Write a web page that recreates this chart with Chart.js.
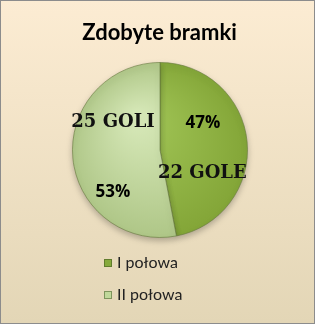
<!DOCTYPE html>
<html><head><meta charset="utf-8">
<script src="https://cdn.jsdelivr.net/npm/chart.js@4/dist/chart.umd.min.js"></script>
<style>
html,body{margin:0;padding:0;}
#wrap{position:relative;width:313px;height:322px;border:1px solid #8c8c8c;background:linear-gradient(#fcecd3,#e3d6b6);}
</style></head><body>
<div id="wrap"><canvas id="c" width="313" height="322"></canvas></div>
<script>
const title = 'Zdobyte bramki';
const categories = ['I połowa', 'II połowa'];
const values = [47, 53];
const goalLabels = ['22 GOLE', '25 GOLI'];
const percentLabels = ['47%', '53%'];

const baseColors = [['#a0c455', '#82a436'], ['#d4e6b5', '#adc585']];
const legendColors = ['#86aa3c', '#c0d89a'];

function grad(ctx) {
  const i = ctx.dataIndex;
  const chart = ctx.chart;
  const a = chart.chartArea;
  if (!a) return baseColors[i][1];
  const cx = (a.left + a.right) / 2, cy = (a.top + a.bottom) / 2;
  const r = Math.min(a.right - a.left, a.bottom - a.top) / 2;
  const g = chart.ctx.createRadialGradient(cx - r * 0.25, cy - r * 0.35, r * 0.1, cx, cy, r * 1.05);
  g.addColorStop(0, baseColors[i][0]);
  g.addColorStop(1, baseColors[i][1]);
  return g;
}

const shadowPlugin = {
  id: 'shadow',
  beforeDatasetsDraw(chart) {
    const c = chart.ctx;
    c.save();
    c.shadowColor = 'rgba(0,0,0,0.25)';
    c.shadowBlur = 6;
    c.shadowOffsetY = 3;
  },
  afterDatasetsDraw(chart) {
    chart.ctx.restore();
  }
};

const labelPlugin = {
  id: 'labels',
  afterDraw(chart) {
    const c = chart.ctx;
    const arcs = chart.getDatasetMeta(0).data;
    const w = chart.width;
    c.save();
    c.fillStyle = '#000';
    c.font = 'bold 22px Lato, "Open Sans", sans-serif';
    c.textAlign = 'center';
    c.textBaseline = 'middle';
    c.fillText(title, w / 2 + 2, 32);
    // slice labels: [angle fraction within slice, radius fraction]
    const pctPos = [[0.34, 0.58], [0.31, 0.72]];
    const goalPos = [[0.70, 0.55], [0.686, 0.62]];
    arcs.forEach((arc, i) => {
      const p = arc.getProps(['x', 'y', 'startAngle', 'endAngle', 'outerRadius'], true);
      const place = (pos) => {
        const ang = p.startAngle + (p.endAngle - p.startAngle) * pos[0];
        return [p.x + Math.cos(ang) * p.outerRadius * pos[1], p.y + Math.sin(ang) * p.outerRadius * pos[1]];
      };
      let q = place(pctPos[i]);
      c.font = 'bold 17px "Open Sans", sans-serif';
      c.fillStyle = '#000';
      c.fillText(percentLabels[i], q[0], q[1]);
      q = place(goalPos[i]);
      c.font = 'bold 18px "DejaVu Serif", serif';
      c.fillStyle = '#111';
      c.fillText(goalLabels[i], q[0], q[1]);
    });
    c.textAlign = 'left';
    c.font = '16px Lato, "Open Sans", sans-serif';
    categories.forEach((cat, i) => {
      const y = 262 + i * 32;
      c.fillStyle = legendColors[i];
      c.fillRect(103, y - 4, 8, 8);
      c.strokeStyle = 'rgba(60,80,30,0.5)';
      c.lineWidth = 1;
      c.strokeRect(103.5, y - 3.5, 7, 7);
      c.fillStyle = '#222';
      c.fillText(cat, 116, y);
    });
    c.restore();
  }
};

new Chart(document.getElementById('c'), {
  type: 'pie',
  data: {
    labels: categories,
    datasets: [{
      data: values,
      backgroundColor: grad,
      borderColor: 'rgba(100,120,60,0.6)',
      borderWidth: 1
    }]
  },
  options: {
    responsive: false,
    animation: false,
    layout: { padding: { top: 61, bottom: 85, left: 71, right: 66 } },
    plugins: { legend: { display: false }, title: { display: false }, tooltip: { enabled: false } }
  },
  plugins: [shadowPlugin, labelPlugin]
});
</script>
</body></html>
